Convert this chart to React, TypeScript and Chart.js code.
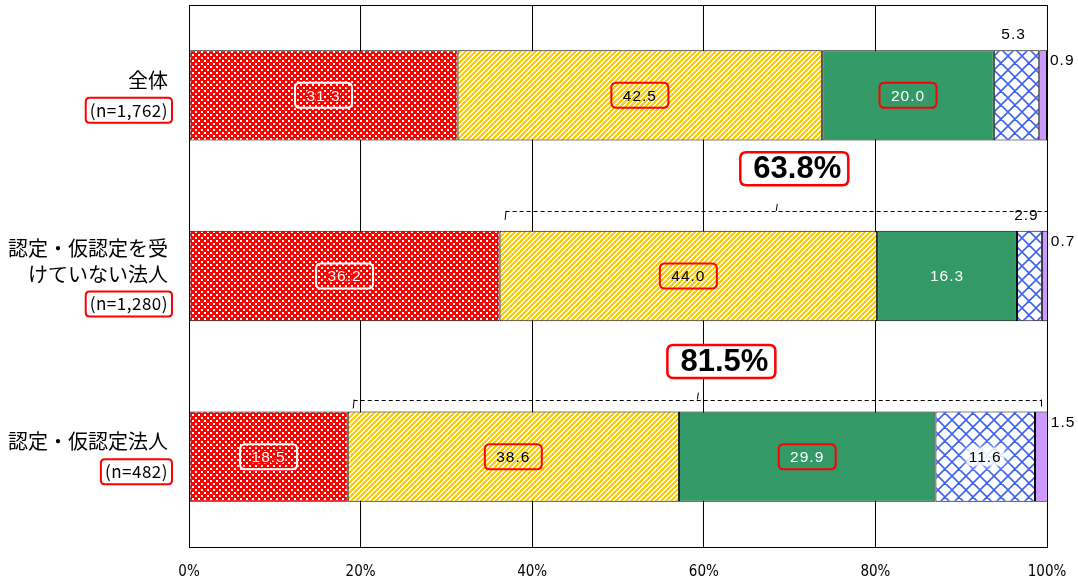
import React, { useEffect, useRef } from 'react';
import { Chart, registerables } from 'chart.js';

Chart.register(...registerables);

// ---------- data ----------
const categoryLines: string[][] = [
  ['全体'],
  ['認定・仮認定を受', 'けていない法人'],
  ['認定・仮認定法人'],
];
const sampleSizes = ['(n=1,762)', '(n=1,280)', '(n=482)'];
const seriesNames = ['系列1', '系列2', '系列3', '系列4', '系列5'];
const series1 = [31.3, 36.2, 18.5];
const series2 = [42.5, 44.0, 38.6];
const series3 = [20.0, 16.3, 29.9];
const series4 = [5.3, 2.9, 11.6];
const series5 = [0.9, 0.7, 1.5];
const xTickValues = [0, 20, 40, 60, 80, 100];

// bracket annotations (row index, start value, label)
const bracketRows = [1, 2];
const bracketStart = [36.2, 18.5];
const bracketEnd = [100, 100];
const bracketLabels = ['63.8%', '81.5%'];

// ---------- patterns ----------
function makeTile(size: number, draw: (c: CanvasRenderingContext2D) => void): CanvasPattern | string {
  const cv = document.createElement('canvas');
  cv.width = size;
  cv.height = size;
  const c = cv.getContext('2d');
  if (!c) return '#ccc';
  draw(c);
  const p = c.createPattern(cv, 'repeat');
  return p || '#ccc';
}

function redDots() {
  return makeTile(6, (c) => {
    c.fillStyle = '#FF0000';
    c.fillRect(0, 0, 6, 6);
    c.fillStyle = '#FFFFFF';
    c.fillRect(0, 0, 2, 2);
    c.fillRect(3, 3, 2, 2);
  });
}

function yellowStripes() {
  return makeTile(5, (c) => {
    const img = c.createImageData(5, 5);
    for (let y = 0; y < 5; y++) {
      for (let x = 0; x < 5; x++) {
        const i = (y * 5 + x) * 4;
        const yellow = (x + y) % 5 < 3;
        img.data[i] = 255;
        img.data[i + 1] = yellow ? 204 : 255;
        img.data[i + 2] = yellow ? 0 : 255;
        img.data[i + 3] = 255;
      }
    }
    c.putImageData(img, 0, 0);
  });
}

function blueLattice() {
  const n = 14;
  return makeTile(n, (c) => {
    c.fillStyle = '#FFFFFF';
    c.fillRect(0, 0, n, n);
    c.strokeStyle = '#3F63F2';
    c.lineWidth = 1.6;
    c.beginPath();
    for (let k = -1; k <= 1; k++) {
      c.moveTo(k * n, 0);
      c.lineTo(k * n + n, n);
      c.moveTo(k * n + n, 0);
      c.lineTo(k * n, n);
    }
    c.stroke();
    c.fillStyle = '#3F63F2';
    c.fillRect(n / 2 - 1, n / 2 - 1, 2, 2);
    c.fillRect(-1, -1, 2, 2);
    c.fillRect(n - 1, -1, 2, 2);
    c.fillRect(-1, n - 1, 2, 2);
    c.fillRect(n - 1, n - 1, 2, 2);
  });
}

// ---------- helpers ----------
function roundRect(ctx: CanvasRenderingContext2D, x: number, y: number, w: number, h: number, r: number) {
  ctx.beginPath();
  ctx.moveTo(x + r, y);
  ctx.lineTo(x + w - r, y);
  ctx.quadraticCurveTo(x + w, y, x + w, y + r);
  ctx.lineTo(x + w, y + h - r);
  ctx.quadraticCurveTo(x + w, y + h, x + w - r, y + h);
  ctx.lineTo(x + r, y + h);
  ctx.quadraticCurveTo(x, y + h, x, y + h - r);
  ctx.lineTo(x, y + r);
  ctx.quadraticCurveTo(x, y, x + r, y);
  ctx.closePath();
}

const valueFont = "15.5px 'Liberation Sans', Arial, sans-serif";

const framePlugin = {
  id: 'frame',
  afterDatasetsDraw(chart: any) {
    const { ctx, chartArea: a } = chart;
    ctx.save();
    ctx.strokeStyle = '#000';
    ctx.lineWidth = 1;
    ctx.strokeRect(Math.round(a.left) + 0.5, Math.round(a.top) + 0.5, Math.round(a.right - a.left), Math.round(a.bottom - a.top));
    ctx.restore();
  },
};

const valueLabelPlugin = {
  id: 'valueLabels',
  afterDatasetsDraw(chart: any) {
    const ctx: CanvasRenderingContext2D = chart.ctx;
    ctx.save();
    ctx.font = valueFont;
    (ctx as any).letterSpacing = '1px';
    ctx.textBaseline = 'middle';
    ctx.textAlign = 'center';
    chart.data.datasets.forEach((ds: any, di: number) => {
      const meta = chart.getDatasetMeta(di);
      meta.data.forEach((bar: any, ri: number) => {
        const v = ds.data[ri] as number;
        const txt = v.toFixed(1);
        const cx = (bar.x + bar.base) / 2;
        const cy = bar.y;
        const top = bar.y - bar.height / 2;
        const boxW = 57;
        const boxH = 25;
        if (di === 0) {
          ctx.strokeStyle = '#FFFFFF';
          ctx.lineWidth = 2;
          roundRect(ctx, cx - boxW / 2, cy - boxH / 2, boxW, boxH, 5);
          ctx.stroke();
          ctx.strokeStyle = '#FF0000';
          ctx.lineWidth = 3;
          ctx.lineJoin = 'round';
          ctx.strokeText(txt, cx, cy + 1);
          ctx.fillStyle = '#FFFFFF';
          ctx.fillText(txt, cx, cy + 1);
        } else if (di === 1) {
          ctx.strokeStyle = '#FF0000';
          ctx.lineWidth = 2;
          roundRect(ctx, cx - boxW / 2, cy - boxH / 2, boxW, boxH, 5);
          ctx.stroke();
          ctx.fillStyle = '#000000';
          ctx.fillText(txt, cx, cy + 1);
        } else if (di === 2) {
          if (ri !== 1) {
            ctx.strokeStyle = '#FF0000';
            ctx.lineWidth = 2;
            roundRect(ctx, cx - boxW / 2, cy - boxH / 2, boxW, boxH, 5);
            ctx.stroke();
          }
          ctx.fillStyle = '#FFFFFF';
          ctx.fillText(txt, cx, cy + 1);
        } else if (di === 3) {
          if (ri === 2) {
            ctx.save();
            ctx.fillStyle = 'rgba(255,255,255,0.7)';
            ctx.shadowColor = 'rgba(255,255,255,1)';
            ctx.shadowBlur = 10;
            ctx.fillRect(cx - 19, cy - 9, 38, 18);
            ctx.restore();
            ctx.fillStyle = '#000000';
            ctx.fillText(txt, cx, cy + 1);
          } else {
            ctx.fillStyle = '#000000';
            ctx.fillText(txt, cx - 3, top - 15);
          }
        } else if (di === 4) {
          ctx.fillStyle = '#000000';
          ctx.textAlign = 'left';
          ctx.fillText(txt, bar.x + 3, top + 11);
          ctx.textAlign = 'center';
        }
      });
    });
    ctx.restore();
  },
};

const annotationPlugin = {
  id: 'brackets',
  afterDraw(chart: any) {
    const ctx: CanvasRenderingContext2D = chart.ctx;
    const xs = chart.scales.x;
    const meta = chart.getDatasetMeta(0);
    ctx.save();
    bracketRows.forEach((row, i) => {
      const bar = meta.data[row];
      const top = bar.y - bar.height / 2;
      const yLine = top - (i === 0 ? 20 : 12);
      const x1 = xs.getPixelForValue(bracketStart[i]) + 6;
      const x2 = xs.getPixelForValue(bracketEnd[i]) - (i === 0 ? 0 : 6);
      const xm = (x1 + x2) / 2;
      ctx.strokeStyle = '#000';
      ctx.lineWidth = 1;
      ctx.setLineDash([4, 3]);
      ctx.beginPath();
      ctx.moveTo(x1, Math.round(yLine) + 0.5);
      ctx.lineTo(x2, Math.round(yLine) + 0.5);
      ctx.stroke();
      ctx.setLineDash([]);
      ctx.beginPath();
      ctx.moveTo(x1 + 0.5, yLine);
      ctx.lineTo(x1 - 0.5, yLine + 9);
      ctx.moveTo(x2 + 0.5, yLine);
      ctx.lineTo(x2 + 0.5, yLine + 7);
      ctx.moveTo(xm, yLine);
      ctx.lineTo(xm + 1, yLine - 7);
      ctx.stroke();

      // label box
      const boxCx = xm + (i === 0 ? 18 : 24);
      const boxCy = top - (i === 0 ? 62 : 50);
      const bw = 108;
      const bh = 33;
      ctx.fillStyle = '#FFFFFF';
      roundRect(ctx, boxCx - bw / 2, boxCy - bh / 2, bw, bh, 6);
      ctx.fill();
      ctx.strokeStyle = '#FF0000';
      ctx.lineWidth = 2.5;
      ctx.stroke();
      ctx.fillStyle = '#000000';
      ctx.font = "bold 31px 'Liberation Sans', Arial, sans-serif";
      ctx.textAlign = 'center';
      ctx.textBaseline = 'middle';
      ctx.fillText(bracketLabels[i], boxCx + 3, boxCy + 1);
    });
    ctx.restore();
  },
};

const categoryLabelPlugin = {
  id: 'categoryLabels',
  afterDraw(chart: any) {
    const ctx: CanvasRenderingContext2D = chart.ctx;
    const ys = chart.scales.y;
    const right = chart.chartArea.left - 21;
    ctx.save();
    ctx.textAlign = 'right';
    ctx.textBaseline = 'middle';
    categoryLines.forEach((lines, i) => {
      const cy = ys.getPixelForValue(i);
      const n = lines.length;
      const textGap = 26;
      const nGap = 30;
      const total = (n - 1) * textGap + nGap;
      let y = cy - total / 2;
      ctx.font = "20px 'Noto Sans CJK JP', sans-serif";
      ctx.fillStyle = '#000';
      (ctx as any).letterSpacing = '0px';
      lines.forEach((ln, k) => {
        ctx.fillText(ln, right, y + k * textGap);
      });
      const ny = y + (n - 1) * textGap + nGap;
      ctx.font = "17px 'Noto Sans CJK JP', sans-serif";
      (ctx as any).letterSpacing = '0.5px';
      const w = ctx.measureText(sampleSizes[i]).width;
      ctx.fillText(sampleSizes[i], right, ny);
      ctx.strokeStyle = '#FF0000';
      ctx.lineWidth = 2;
      roundRect(ctx, right - w - 4, ny - 12.5, w + 8, 25, 4);
      ctx.stroke();
    });
    ctx.restore();
  },
};

export default function App() {
  const ref = useRef<HTMLCanvasElement | null>(null);
  useEffect(() => {
    if (!ref.current) return;
    const fills = [redDots(), yellowStripes(), '#339966', blueLattice(), '#CC99FF'];
    const seriesData = [series1, series2, series3, series4, series5];
    const chart = new Chart(ref.current, {
      type: 'bar',
      data: {
        labels: categoryLines.map((l) => l.join('')),
        datasets: seriesData.map((d, i) => ({
          label: seriesNames[i],
          data: d,
          backgroundColor: fills[i] as any,
          borderColor: '#000000',
          borderWidth: 1,
          borderSkipped: false,
          categoryPercentage: 1,
          barPercentage: 0.5,
        })),
      },
      options: {
        indexAxis: 'y',
        animation: false,
        responsive: false,
        maintainAspectRatio: false,
        layout: { padding: { left: 189, right: 31, top: 5, bottom: 0 } },
        plugins: {
          legend: { display: false },
          tooltip: { enabled: false },
        },
        scales: {
          x: {
            stacked: true,
            min: 0,
            max: 100,
            afterBuildTicks: (s: any) => {
              s.ticks = xTickValues.map((v) => ({ value: v }));
            },
            afterFit: (s: any) => {
              s.height = 39;
              s.paddingLeft = 0;
              s.paddingRight = 0;
            },
            grid: { color: '#000000', lineWidth: 1, drawTicks: false },
            border: { display: true, color: '#000000' },
            ticks: {
              padding: 16,
              color: '#000000',
              font: { family: "'Liberation Sans Narrow', 'DejaVu Sans Condensed', sans-serif", size: 15 },
              callback: (v: any) => `${v}%`,
            },
          },
          y: {
            stacked: true,
            grid: { display: false, drawTicks: false },
            border: { display: true, color: '#000000' },
            ticks: { display: false },
            afterFit: (s: any) => {
              s.width = 0;
            },
          },
        },
      },
      plugins: [framePlugin, valueLabelPlugin, annotationPlugin, categoryLabelPlugin],
    });
    return () => chart.destroy();
  }, []);
  return (
    <div style={{ position: 'fixed', left: 0, top: 0, width: 1078, height: 586, background: '#fff' }}>
      <canvas ref={ref} width={1078} height={586} style={{ width: 1078, height: 586, display: 'block' }} />
    </div>
  );
}
